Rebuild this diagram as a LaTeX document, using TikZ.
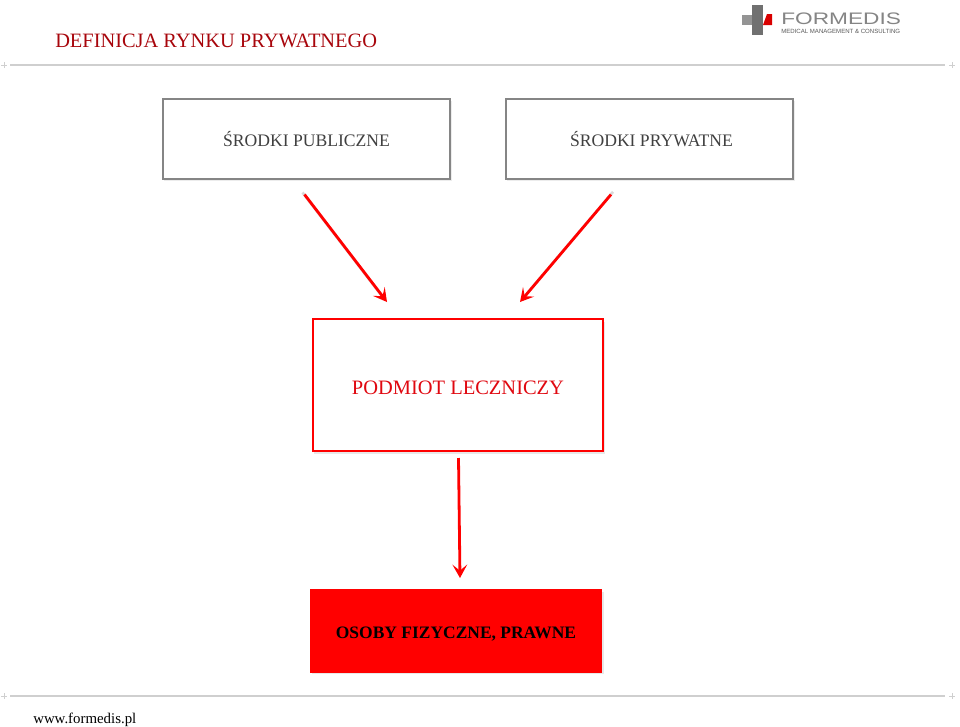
\documentclass[tikz,border=0pt]{standalone}
\usepackage{fontspec}
\setmainfont{Liberation Serif}
\newfontfamily\logofont{Liberation Sans}
\usetikzlibrary{arrows.meta}
\definecolor{boxgray}{HTML}{858585}
\definecolor{rulegray}{HTML}{CFCFCF}
\definecolor{mainred}{HTML}{FF0000}
\definecolor{darkred}{HTML}{E00810}
\definecolor{shadowgray}{HTML}{D8D8D8}
\definecolor{logogray}{HTML}{707070}
\newcommand{\lowered}[2]{\raisebox{-#1}[0pt][0pt]{#2}}
\tikzset{
  x=0.75pt,y=-0.75pt,
  plainbox/.style={draw=boxgray,line width=1pt,fill=white,minimum width=215.25pt,minimum height=60pt,inner sep=0pt,
    font=\fontsize{13.2pt}{16pt}\selectfont,text=black!75},
  redbox/.style={draw=mainred,line width=1.4pt,fill=white,minimum width=218pt,minimum height=99pt,inner sep=0pt,
    font=\fontsize{15.35pt}{18pt}\selectfont,text=darkred},
  solidbox/.style={fill=mainred,minimum width=219pt,minimum height=63pt,inner sep=0pt,
    font=\bfseries\fontsize{13.1pt}{16pt}\selectfont,text=black},
  flow/.style={draw=mainred,line width=2.1pt,-{Stealth[length=10pt,width=11pt,inset=4.5pt]}},
  flowshadow/.style={draw=shadowgray,line width=2pt},
  sepline/.style={draw=rulegray,line width=1.1pt},
  tick/.style={draw=rulegray,line width=0.6pt}
}
\begin{document}
\begin{tikzpicture}
\useasboundingbox (0,0) rectangle (960,726);
\fill[white] (0,0) rectangle (960,726);
% rules
\coordinate (tl) at (10,65); \coordinate (tr) at (945,65);
\coordinate (bl) at (10,696); \coordinate (br) at (945,696);
\draw[sepline] (tl) -- (tr);
\draw[sepline] (bl) -- (br);
\foreach \px/\py in {4/65,952/65,4/696,952/696}{
  \draw[tick] (\px-3,\py) -- (\px+3,\py) (\px,\py-3) -- (\px,\py+3);
}
% title
\node[anchor=base west,inner sep=0pt,font=\fontsize{15.3pt}{18pt}\selectfont,text=darkred!75!black] (title) at (55,47) {DEFINICJA RYNKU PRYWATNEGO};
% logo
\fill[logogray] (752,5) rectangle (763,35);
\fill[logogray!75] (742,15) rectangle (752,25);
\fill[logogray] (752,15) rectangle (763,25);
\fill[mainred!85!black] (763,25) -- (772,25) -- (772,14) -- (767,14) -- cycle;
\node[anchor=base west,inner sep=0pt,xscale=1.36,font=\logofont\fontsize{12.5pt}{15pt}\selectfont,text=logogray!85] (logoname) at (781,24) {FORMEDIS};
\node[anchor=base west,inner sep=0pt,font=\logofont\fontsize{4.55pt}{6pt}\selectfont,text=logogray!80!black] (logosub) at (781,33.5) {MEDICAL MANAGEMENT \& CONSULTING};
% boxes
\fill[shadowgray!50] (164,101) rectangle (452,181);
\fill[shadowgray!50] (507,101) rectangle (795,181);
\fill[shadowgray!60] (314,322) rectangle (605,454);
\fill[shadowgray!60] (312,592) rectangle (604,674);
\node[plainbox] (pub) at (306.5,139) {\lowered{5.25pt}{ŚRODKI PUBLICZNE}};
\node[plainbox] (pry) at (649.5,139) {\lowered{5.25pt}{\hspace{3pt}ŚRODKI PRYWATNE}};
\node[redbox] (pod) at (458,385) {\lowered{7pt}{PODMIOT LECZNICZY}};
\node[solidbox] (oso) at (456,630.5) {\lowered{6pt}{OSOBY FIZYCZNE, PRAWNE}};
% connectors
\coordinate (a1s) at (304.5,194.5); \coordinate (a1e) at (387,302);
\coordinate (a2s) at (611,194.5);   \coordinate (a2e) at (520,302);
\coordinate (a3s) at (458.5,458);   \coordinate (a3e) at (460,578);
\draw[flowshadow] ([xshift=-1.5,yshift=1.5]a1s) -- ([xshift=-1.5,yshift=1.5]a1e);
\draw[flowshadow] ([xshift=1.5,yshift=2]a2s) -- ([xshift=1.5,yshift=2]a2e);
\draw[flow] (a1s) -- (a1e);
\draw[flow] (a2s) -- (a2e);
\draw[flow] (a3s) -- (a3e);
% footer
\node[anchor=base west,inner sep=0pt,font=\fontsize{11.15pt}{14pt}\selectfont,text=black] (web) at (33,723) {www.formedis.pl};
\end{tikzpicture}
\end{document}
